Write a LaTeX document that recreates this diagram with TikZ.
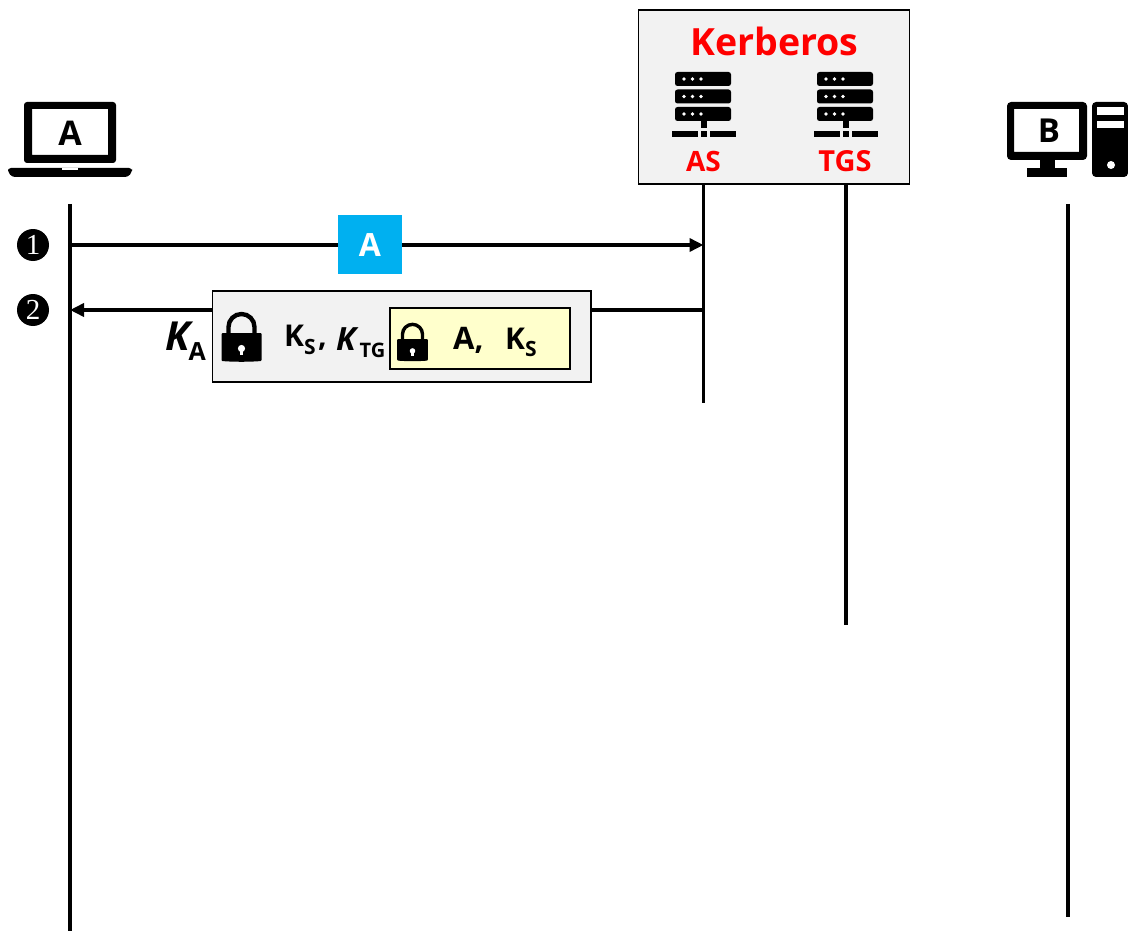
\documentclass[tikz,border=0pt]{standalone}
\usepackage{fontspec}
\setmainfont{Open Sans}
\newfontfamily\numfont{Liberation Serif}
\usetikzlibrary{arrows.meta}
\definecolor{panel}{HTML}{F2F2F2}
\definecolor{paleyellow}{HTML}{FFFFCC}
\definecolor{skyblue}{HTML}{00B0F0}
\newcommand{\fs}[1]{\fontsize{#1}{#1}\selectfont}
\newcommand{\subtx}[2]{\raisebox{#2pt}{\fs{21}#1}}
\newcommand{\drawserver}[1]{%
  \begin{scope}[shift={(#1,0)}]
    \foreach \yy in {72,89.5,107}{
      \fill[black,rounded corners=2.5pt] (-28.5,\yy) rectangle (27.5,\yy+14);
      \foreach \xx in {-19.5,-11,-2.5}{\fill[white] (\xx,\yy+7) circle[radius=1.9];}
    }
    \fill[black] (-3,121) rectangle (3,128);
    \fill[black] (-3,131) rectangle (3,137);
    \fill[black] (-31.5,131) rectangle (-6,137);
    \fill[black] (6,131) rectangle (32,137);
  \end{scope}}
\newcommand{\drawlock}[3]{%
  \begin{scope}[shift={(#1,#2)},scale=#3]
    \draw[black,line width={4.4pt*#3}] (-13,2) -- (-13,-6) .. controls (-13,-13.2) and (-7.2,-19) .. (0,-19) .. controls (7.2,-19) and (13,-13.2) .. (13,-6) -- (13,2);
    \fill[black,rounded corners=1pt] (-20,0) -- (20,0) -- (20,28) .. controls (8,29) and (-8,29) .. (-20,28) -- cycle;
    \fill[white] (0,15.5) circle[radius=3.6];
    \fill[white] (-1.7,16) rectangle (1.7,22);
  \end{scope}}
\tikzset{
  x=1pt,y=-1pt,
  lifeline/.style={line width=3.9pt,black},
  msg/.style={line width=3.9pt,black},
  msghead/.style={-{Triangle[length=14pt,width=13pt]}},
  framebox/.style={draw=black,line width=1.8pt,fill=panel,inner sep=0pt,outer sep=0pt,anchor=north west},
  lbl/.style={inner sep=0pt,font=\bfseries},
  redlbl/.style={lbl,text=red},
  stepdot/.style={circle,fill=black,inner sep=0pt,minimum size=32pt,text=white,font=\numfont\fs{29}},
  device/.style={fill=black}
}
\begin{document}
\begin{tikzpicture}
\useasboundingbox (0,0) rectangle (1128,931);
% lifeline end points
\coordinate (aTop) at (70,204);
\coordinate (aBot) at (70,931);
\coordinate (bTop) at (1068,204);
\coordinate (bBot) at (1068,917);
\coordinate (asTop) at (703.5,184);
\coordinate (asBot) at (703.5,403);
\coordinate (tgsTop) at (846,184);
\coordinate (tgsBot) at (846,625);
\coordinate (a1) at (70,245);
\coordinate (as1) at (703.5,245);
\coordinate (a2) at (70,310);
\coordinate (as2) at (703.5,310);
\draw[lifeline] (aTop) -- (aBot);
\draw[lifeline] (bTop) -- (bBot);
\draw[lifeline] (asTop) -- (asBot);
\draw[lifeline] (tgsTop) -- (tgsBot);
\draw[msg,msghead] (a1) -- (as1);
\draw[msg,msghead] (as2) -- (a2);
% Kerberos box
\node[framebox,minimum width=271pt,minimum height=174pt] (kbox) at (638.5,10) {};
\node[redlbl,font=\bfseries\fs{37.5},anchor=base] (ktitle) at (774.5,56) {Kerberos};
\drawserver{703.5}
\drawserver{845.5}
\node[redlbl,font=\bfseries\fs{28},anchor=base] (aslbl) at (703.5,172) {AS};
\node[redlbl,font=\bfseries\fs{29},anchor=base] (tgslbl) at (845,172) {TGS};
% Laptop A
\fill[device,rounded corners=3pt,even odd rule] (24,102) rectangle (116,163) [sharp corners] (32,109) rectangle (108,155);
\fill[device,rounded corners=3pt] (8,168) -- (132,168) -- (132,172) -- (128,177) -- (12,177) -- (8,172) -- cycle;
\fill[white] (62,168) rectangle (78,170.5);
\node[lbl,font=\bfseries\fs{34},anchor=base] (alabel) at (70,145.5) {A};
% Desktop B
\fill[device,rounded corners=4pt,even odd rule] (1007,102) rectangle (1087,160) [sharp corners] (1014,109) rectangle (1079,152);
\fill[device] (1040,160) rectangle (1055,168);
\fill[device] (1027,168) rectangle (1067,177);
\fill[device,rounded corners=4pt] (1092,102) rectangle (1128,177);
\fill[white] (1097,107) rectangle (1124,115);
\fill[white] (1097,121) rectangle (1124,128);
\fill[white] (1111,165) circle[radius=4];
\node[lbl,font=\bfseries\fs{33},anchor=base] (blabel) at (1049,143) {B};
% Step markers
\node[stepdot] (s1) at (33,245) {1};
\node[stepdot] (s2) at (33,310) {2};
% Message 1
\node[fill=skyblue,minimum width=64pt,minimum height=59pt,inner sep=0pt,outer sep=0pt,anchor=north west] (msgA) at (338,215) {};
\node[lbl,text=white,font=\bfseries\fs{32},anchor=base] (msgAt) at (370,256) {A};
% Message 2
\node[framebox,minimum width=378.5pt,minimum height=91pt] (outer) at (212.5,291) {};
\node[framebox,fill=paleyellow,minimum width=180pt,minimum height=61pt] (inner) at (390,308) {};
\drawlock{241.5}{333}{1}
\drawlock{412.5}{339}{0.77}
\node[lbl,font=\bfseries\itshape\fs{40},anchor=base west] (ka) at (165,350) {K};
\node[lbl,font=\bfseries\fs{25},anchor=base west] (kasub) at (188.5,360) {A};
\node[lbl,font=\bfseries\fs{30},anchor=base west] (ks) at (284,346) {K\subtx{S}{-8}};
\node[lbl,font=\bfseries\fs{30},anchor=base west] (comma1) at (318,346) {,};
\node[lbl,font=\bfseries\itshape\fs{32},anchor=base west] (ktg) at (336,350) {K};
\node[lbl,font=\bfseries\fs{20},anchor=base west] (ktgsub) at (359.5,357.5) {TG};
\node[lbl,font=\bfseries\fs{31},anchor=base west] (ainner) at (453,349.5) {A,};
\node[lbl,font=\bfseries\fs{30},anchor=base west] (ksinner) at (505,349.5) {K\subtx{S}{-7}};
\end{tikzpicture}
\end{document}
